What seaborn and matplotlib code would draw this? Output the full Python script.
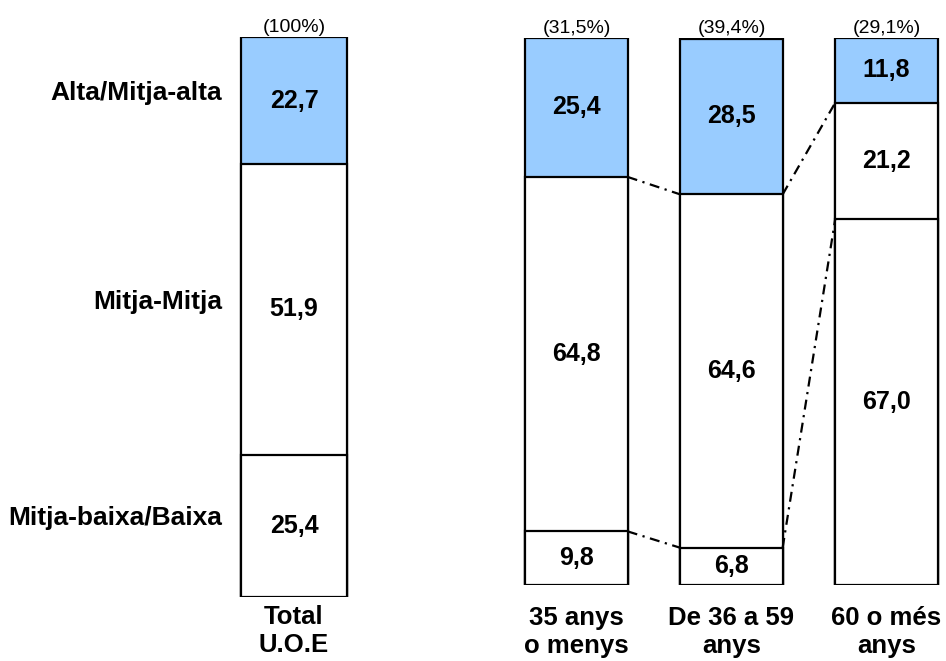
import matplotlib
matplotlib.use("Agg")
import matplotlib.pyplot as plt
import seaborn as sns
import pandas as pd

# data
total_label = ["Total\nU.O.E"]
total_share = ["(100%)"]
total_baixa = [25.4]
total_mitja = [51.9]
total_alta = [22.7]

groups = ["35 anys\no menys", "De 36 a 59\nanys", "60 o més\nanys"]
shares = ["(31,5%)", "(39,4%)", "(29,1%)"]
baixa = [9.8, 6.8, 67.0]
mitja = [64.8, 64.6, 21.2]
alta = [25.4, 28.5, 11.8]

row_labels = ["Mitja-baixa/Baixa", "Mitja-Mitja", "Alta/Mitja-alta"]

BLUE = "#99CCFF"

sns.set_theme(style="white")
plt.rcParams["font.family"] = ["Liberation Sans", "DejaVu Sans"]
plt.rcParams["text.color"] = "black"
plt.rcParams["xtick.color"] = "black"

W, H = 946, 661
fig = plt.figure(figsize=(W / 100, H / 100), dpi=100)


def px_axes(left, right, top, bottom):
    return fig.add_axes([left / W, 1 - bottom / H, (right - left) / W, (bottom - top) / H])


def stacked(ax, names, low, mid, high, width):
    df = pd.DataFrame({"name": names, "low": low, "mid": mid, "high": high})
    df["c1"] = df["low"]
    df["c2"] = df["low"] + df["mid"]
    df["c3"] = df["c2"] + df["high"]
    for col, color in [("c3", BLUE), ("c2", "white"), ("c1", "white")]:
        sns.barplot(data=df, x="name", y=col, color=color, saturation=1,
                    width=width, edgecolor="black", linewidth=1.6,
                    errorbar=None, ax=ax)
    for i, r in df.iterrows():
        for val, lo in [(r["low"], 0), (r["mid"], r["c1"]), (r["high"], r["c2"])]:
            ax.text(i, lo + val / 2, f"{val:.1f}".replace(".", ","),
                    ha="center", va="center", fontsize=18, fontweight="bold")
    return df


def finish(ax, shares_list, xmax, pad):
    for i, s in enumerate(shares_list):
        ax.annotate(s, (i, 100), xytext=(0, 1), textcoords="offset points",
                    ha="center", va="bottom", fontsize=14, annotation_clip=False)
    ax.set_xlim(-0.5, xmax)
    ax.set_ylim(0, 100)
    ax.set_xlabel("")
    ax.set_ylabel("")
    ax.set_yticks([])
    ax.tick_params(axis="x", length=0, pad=pad, labelsize=18.5)
    for lbl in ax.get_xticklabels():
        lbl.set_fontweight("bold")
    sns.despine(ax=ax, left=True, bottom=True)


# total bar
ax1 = px_axes(227.75, 360.25, 37, 597)
tot = stacked(ax1, total_label, total_baixa, total_mitja, total_alta, 0.8)
finish(ax1, total_share, 0.5, 6)

mids = [tot["low"][0] / 2, tot["c1"][0] + tot["mid"][0] / 2, tot["c2"][0] + tot["high"][0] / 2]
for lab, m in zip(row_labels, mids):
    ax1.text(-0.545, m + 1.4, lab, ha="right", va="center",
             fontsize=19, fontweight="bold", clip_on=False)

# age groups
ax2 = px_axes(499, 946, 38, 585)
w = 0.66
grp = stacked(ax2, groups, baixa, mitja, alta, w)
finish(ax2, shares, 2.384, 15)

# dash-dot connectors between neighbouring bars
for col in ["c1", "c2"]:
    for i in range(len(groups) - 1):
        ax2.plot([i + w / 2, i + 1 - w / 2], [grp[col][i], grp[col][i + 1]],
                 color="black", linestyle=(0, (4.5, 2.5, 1, 2.5)),
                 linewidth=1.6, zorder=5)

fig.savefig("out.png", dpi=100)
